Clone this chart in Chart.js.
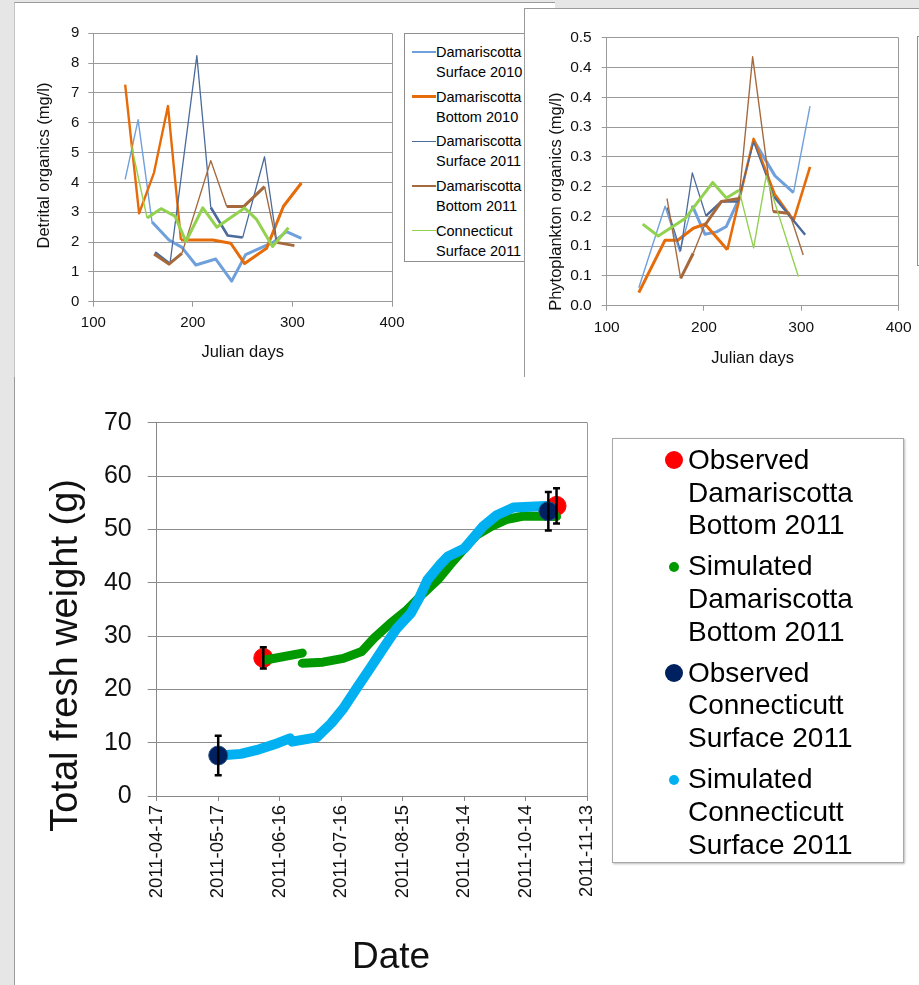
<!DOCTYPE html>
<html>
<head>
<meta charset="utf-8">
<script src="https://cdn.jsdelivr.net/npm/chart.js@4.4.1/dist/chart.umd.min.js"></script>
<style>
  body { margin: 0; width: 919px; height: 985px; position: relative; overflow: hidden;
         background: #e6e6e6; font-family: "Liberation Sans", Arial, sans-serif; }
  .panel { position: absolute; background: #fff; }
  .holder { position: absolute; }
  .legend { position: absolute; background: #fff; border: 1px solid #8f8f8f; box-sizing: border-box; overflow: hidden; }
  .item { position: absolute; white-space: nowrap; color: #000; }
  .swatch { position: absolute; }
</style>
</head>
<body>

<div class="panel" style="left:14px;top:2px;width:540px;height:374px;border-top:1px solid #9a9a9a;border-left:1px solid #c4c4c4"></div>
<div class="holder" style="left:15px;top:3px;width:515px;height:372px"><canvas id="detrital"></canvas></div>
<div class="legend" id="detLegend" style="left:404px;top:33px;width:150px;height:229px"></div>

<div class="panel" style="left:524px;top:8px;width:400px;height:370px;border-top:1px solid #9a9a9a;border-left:1px solid #9a9a9a"></div>
<div class="holder" style="left:525px;top:8px;width:394px;height:370px"><canvas id="phyto"></canvas></div>
<div class="legend" style="left:917px;top:36px;width:20px;height:230px"></div>

<div class="panel" style="left:14px;top:377px;width:910px;height:610px;border-left:1px solid #9a9a9a"></div>
<div class="holder" style="left:15px;top:378px;width:904px;height:607px"><canvas id="weight"></canvas></div>
<div class="legend" id="weightLegend" style="left:612px;top:438px;width:292px;height:425px;border-color:#a8a8a8;box-shadow:1px 1px 2px #bbb"></div>

<script>
// ---- top left: detrital organics (mg/l) vs Julian day ----
const detSurf2010Days = [132, 145, 159, 176, 189, 203, 223, 239, 253, 281, 294, 309];
const detSurf2010 = [4.1, 6.1, 2.67, 2.07, 1.82, 1.23, 1.43, 0.69, 1.58, 2.0, 2.35, 2.12];
const detBot2010Days = [132, 146, 161, 175, 188, 220, 238, 252, 274, 291, 309];
const detBot2010 = [7.28, 2.96, 4.33, 6.56, 2.07, 2.07, 1.96, 1.28, 1.79, 3.2, 3.98];
const detSurf2011Days = [162, 177, 204, 218, 235, 250, 272, 284];
const detSurf2011 = [1.66, 1.27, 8.25, 3.16, 2.22, 2.15, 4.86, 2.08];
const detBot2011Days = [161, 176, 189, 218, 234, 251, 272, 284, 302];
const detBot2011 = [1.6, 1.26, 1.62, 4.73, 3.19, 3.19, 3.86, 1.99, 1.88];
const detConnDays = [138, 154, 168, 182, 193, 210, 224, 252, 264, 280, 296];
const detConn = [5.28, 2.81, 3.12, 2.87, 2.02, 3.15, 2.5, 3.14, 2.76, 1.85, 2.48];

// ---- top right: phytoplankton organics (mg/l) vs Julian day ----
const phySurf2010Days = [133, 160, 175, 188, 201, 213, 223, 237, 251, 273, 292, 309];
const phySurf2010 = [0.03, 0.167, 0.091, 0.168, 0.12, 0.124, 0.133, 0.183, 0.278, 0.218, 0.19, 0.335];
const phyBot2010Days = [133, 160, 173, 189, 201, 224, 251, 273, 292, 309];
const phyBot2010 = [0.022, 0.11, 0.11, 0.13, 0.137, 0.094, 0.28, 0.186, 0.143, 0.233];
const phySurf2011Days = [162, 176, 188, 202, 218, 235, 251, 272, 293, 304];
const phySurf2011 = [0.165, 0.092, 0.223, 0.151, 0.175, 0.175, 0.275, 0.183, 0.141, 0.119];
const phyBot2011Days = [162, 176, 189, 200, 218, 236, 250, 271, 288, 302];
const phyBot2011 = [0.18, 0.046, 0.088, 0.133, 0.175, 0.18, 0.418, 0.158, 0.155, 0.085];
const phyConnDays = [137, 153, 181, 209, 223, 236, 251, 264, 297];
const phyConn = [0.137, 0.117, 0.147, 0.207, 0.181, 0.194, 0.097, 0.218, 0.049];
const phyTickValues = [0, 0.05, 0.1, 0.15, 0.2, 0.25, 0.3, 0.35, 0.4, 0.45];
const phyTickLabels = ['0.0', '0.1', '0.1', '0.2', '0.2', '0.3', '0.3', '0.4', '0.4', '0.5'];

const topSeriesNames = ['Damariscotta\nSurface 2010', 'Damariscotta\nBottom 2010', 'Damariscotta\nSurface 2011',
  'Damariscotta\nBottom 2011', 'Connecticut\nSurface 2011'];

// ---- bottom: total fresh weight (g), x = day of year 2011 ----
const dateTickDays = [107, 137, 167, 197, 227, 257, 287, 317];
const dateTickLabels = ['2011-04-17', '2011-05-17', '2011-06-16', '2011-07-16', '2011-08-15', '2011-09-14', '2011-10-14', '2011-11-13'];
const obsDamDays = [159, 302];
const obsDam = [25.9, 54.4];
const obsDamErr = [2.0, 3.3];
const obsConnDays = [137, 298];
const obsConn = [7.6, 53.4];
const obsConnErr = [3.7, 3.6];
const simDamDays = [160, 178, 178, 178, 188, 198, 207, 213, 221, 229, 237, 244, 250, 257, 263, 270, 278, 286, 302];
const simDam = [25.5, 26.8, null, 24.9, 25.1, 25.8, 27.1, 29.6, 32.4, 34.9, 38, 40.5, 43.3, 46.4, 48.9, 50.5, 51.9, 52.5, 52.4];
const simConnDays = [138, 148, 157, 166, 172, 173, 185, 192, 198, 205, 211, 218, 224, 231, 235, 239, 245, 249, 257, 266, 273, 281, 297];
const simConn = [7.6, 7.9, 8.75, 9.9, 10.8, 10.2, 11, 13.6, 16.4, 20.5, 23.9, 28, 31.4, 34.3, 37.1, 40.5, 43.3, 44.9, 46.4, 50.5, 52.7, 54.1, 54.4];
const weightSeriesNames = ['Observed\nDamariscotta\nBottom 2011', 'Simulated\nDamariscotta\nBottom 2011',
  'Observed\nConnecticutt\nSurface 2011', 'Simulated\nConnecticutt\nSurface 2011'];

const FONT = '"Liberation Sans", Arial, sans-serif';
const GRID = '#9a9a9a';
const topColors = ['#6fa0dc', '#e66c0a', '#4a6b9c', '#a5693c', '#93d150'];
const weightColors = ['#ff0000', '#009a00', '#00215f', '#00b0f0'];

function pts(xs, ys) {
  return xs.map((x, i) => ({ x: x, y: ys[i] }));
}

// steep stretches of the original look thin, flat ones thick
function slopeWidth(thin, thick) {
  return (ctx) => {
    const dx = Math.abs(ctx.p1.x - ctx.p0.x) || 1;
    return Math.abs(ctx.p1.y - ctx.p0.y) / dx > 2.5 ? thin : thick;
  };
}

function seriesLine(xs, ys, color, order, thin, thick) {
  return {
    data: pts(xs, ys), borderColor: color, backgroundColor: color, order: order,
    pointRadius: 0, borderWidth: thick, borderJoinStyle: 'round',
    segment: { borderWidth: slopeWidth(thin, thick) }
  };
}

function errorBars(xs, ys, errs) {
  const out = [];
  xs.forEach((x, i) => {
    out.push({ x: x, y: ys[i] - errs[i] }, { x: x, y: ys[i] + errs[i] }, { x: x, y: null });
  });
  return out;
}

// the original axis titles sit off the middle of their axis, so nudge the drawn title
function shiftTitle(scale, dx, dy) {
  if (scale._titleShifted) return;
  scale._titleShifted = true;
  const draw = scale.drawTitle;
  scale.drawTitle = function () {
    this.ctx.save();
    this.ctx.translate(dx, dy);
    draw.call(this);
    this.ctx.restore();
  };
}

const fixWidth = (w, dy) => (scale) => { scale.width = w; shiftTitle(scale, 0, dy || 0); };
const fixHeight = (h, dx) => (scale) => { scale.height = h; shiftTitle(scale, dx || 0, 0); };
const lastTickOnly = (v) => (ctx) => (ctx.tick && ctx.tick.value === v ? GRID : 'transparent');

function topChart(id, datasets, yOpts, yTitle, geom) {
  return new Chart(document.getElementById(id), {
    type: 'line',
    data: { datasets: datasets },
    options: {
      responsive: true, maintainAspectRatio: false, animation: false,
      layout: { padding: { top: geom.top, right: geom.right, left: 0, bottom: 0 } },
      plugins: { legend: { display: false }, tooltip: { enabled: false } },
      scales: {
        x: {
          type: 'linear', min: 100, max: 400,
          ticks: { stepSize: 100, color: '#111', font: { family: FONT, size: geom.tick }, padding: geom.xPad },
          grid: { color: lastTickOnly(400), tickColor: GRID, tickLength: 5 },
          border: { color: GRID },
          title: { display: true, text: 'Julian days', color: '#111', font: { family: FONT, size: 16.5 },
                   padding: { top: 0, bottom: geom.xTitle } },
          afterFit: fixHeight(geom.xh)
        },
        y: Object.assign({
          grid: { color: GRID, tickLength: 5 },
          border: { color: GRID },
          title: { display: true, text: yTitle, color: '#111', font: { family: FONT, size: 16.5 },
                   padding: { top: geom.yTitle, bottom: 0 } },
          afterFit: fixWidth(geom.yw, geom.yShift)
        }, yOpts)
      }
    }
  });
}

topChart('detrital', [
  seriesLine(detSurf2010Days, detSurf2010, topColors[0], 5, 1.4, 3),
  seriesLine(detBot2010Days, detBot2010, topColors[1], 4, 2.4, 3),
  seriesLine(detSurf2011Days, detSurf2011, topColors[2], 3, 1.3, 2.6),
  seriesLine(detBot2011Days, detBot2011, topColors[3], 2, 1.4, 3),
  seriesLine(detConnDays, detConn, topColors[4], 1, 1.4, 3)
], {
  min: 0, max: 9,
  ticks: { stepSize: 1, color: '#111', font: { family: FONT, size: 15 }, padding: 9 }
}, 'Detrital organics (mg/l)',
{ top: 30.3, right: 138, xh: 73.3, yw: 78.3, tick: 15, xPad: 7, xTitle: 13, yTitle: 20, yShift: -2 });

topChart('phyto', [
  seriesLine(phySurf2010Days, phySurf2010, topColors[0], 5, 1.4, 3),
  seriesLine(phyBot2010Days, phyBot2010, topColors[1], 4, 2.6, 3),
  seriesLine(phySurf2011Days, phySurf2011, topColors[2], 3, 1.3, 2.4),
  seriesLine(phyBot2011Days, phyBot2011, topColors[3], 2, 1.4, 3),
  seriesLine(phyConnDays, phyConn, topColors[4], 1, 1.4, 3)
], {
  min: 0, max: 0.45,
  afterBuildTicks: (scale) => { scale.ticks = phyTickValues.map((v) => ({ value: v })); },
  ticks: { color: '#111', font: { family: FONT, size: 15.5 }, padding: 10,
           callback: (v, i) => phyTickLabels[i] }
}, 'Phytoplankton organics (mg/l)',
{ top: 29.7, right: 14.7, xh: 72.3, yw: 81.7, tick: 15.5, xPad: 7.5, xTitle: 10, yTitle: 22, yShift: 30 });

new Chart(document.getElementById('weight'), {
  type: 'line',
  data: {
    datasets: [
      { data: errorBars(obsConnDays, obsConn, obsConnErr), borderColor: '#000', order: -2, borderWidth: 2.5,
        pointStyle: 'line', pointRadius: 3.5, pointBorderWidth: 2.5, pointBorderColor: '#000', spanGaps: false },
      { data: errorBars(obsDamDays, obsDam, obsDamErr), borderColor: '#000', order: -2, borderWidth: 2.5,
        pointStyle: 'line', pointRadius: 3.5, pointBorderWidth: 2.5, pointBorderColor: '#000', spanGaps: false },
      { data: pts(obsConnDays, obsConn), showLine: false, order: -1, pointRadius: 9.5,
        pointBackgroundColor: weightColors[2], pointBorderColor: '#2c5688', pointBorderWidth: 1 },
      { data: pts(simConnDays, simConn), borderColor: weightColors[3], order: 0, pointRadius: 0,
        borderWidth: 10, borderCapStyle: 'round', borderJoinStyle: 'round' },
      { data: pts(simDamDays, simDam), borderColor: weightColors[1], order: 1, pointRadius: 0,
        borderWidth: 9, borderCapStyle: 'round', borderJoinStyle: 'round', spanGaps: false },
      { data: pts(obsDamDays, obsDam), showLine: false, order: 4, pointRadius: 9.5,
        pointBackgroundColor: weightColors[0], pointBorderColor: weightColors[0], pointBorderWidth: 1 }
    ]
  },
  options: {
    responsive: true, maintainAspectRatio: false, animation: false,
    layout: { padding: { top: 44.7, right: 331.7, left: 0, bottom: 0 } },
    plugins: { legend: { display: false }, tooltip: { enabled: false } },
    scales: {
      x: {
        type: 'linear', min: 107, max: 317,
        afterBuildTicks: (scale) => { scale.ticks = dateTickDays.map((v) => ({ value: v })); },
        ticks: { autoSkip: false, minRotation: 90, maxRotation: 90, color: '#111', padding: 4,
                 font: { family: FONT, size: 18.5 }, callback: (v, i) => dateTickLabels[i] },
        grid: { color: lastTickOnly(317), tickColor: '#888', tickLength: 5 },
        border: { color: '#888' },
        title: { display: true, text: 'Date', color: '#111', font: { family: FONT, size: 37 },
                 padding: { top: 0, bottom: 5 } },
        afterFit: fixHeight(189, 19)
      },
      y: {
        min: 0, max: 70,
        ticks: { stepSize: 10, color: '#111', font: { family: FONT, size: 25 }, padding: 16 },
        grid: { color: '#8a8a8a', tickLength: 9 },
        border: { color: '#888' },
        title: { display: true, text: 'Total fresh weight (g)', color: '#111', font: { family: FONT, size: 38 },
                 padding: { top: 29, bottom: 0 } },
        afterFit: fixWidth(141.7, 46)
      }
    }
  }
});

// ---- HTML legends (multi-line entries) ----
const detLegend = document.getElementById('detLegend');
const topLineWidths = [1.3, 2.6, 1.3, 1.3, 1.3];
topSeriesNames.forEach((name, i) => {
  const cy = 18 + 44.7 * i;
  const sw = document.createElement('div');
  sw.className = 'swatch';
  sw.style.cssText = 'left:7px;width:24px;top:' + (cy - topLineWidths[i] / 2) + 'px;height:' +
    topLineWidths[i] + 'px;background:' + topColors[i];
  detLegend.appendChild(sw);
  const tx = document.createElement('div');
  tx.className = 'item';
  tx.style.cssText = 'left:31px;top:' + (cy - 10) + 'px;font-size:14.5px;line-height:20px';
  tx.innerHTML = name.split('\n').join('<br>');
  detLegend.appendChild(tx);
});

const weightLegend = document.getElementById('weightLegend');
const weightDotRadius = [9, 5, 9, 5];
weightSeriesNames.forEach((name, i) => {
  const cy = 21.3 + 106.4 * i;
  const r = weightDotRadius[i];
  const dot = document.createElement('div');
  dot.className = 'swatch';
  dot.style.cssText = 'left:' + (60.7 - r) + 'px;top:' + (cy - r) + 'px;width:' + 2 * r + 'px;height:' + 2 * r +
    'px;border-radius:50%;background:' + weightColors[i];
  weightLegend.appendChild(dot);
  const tx = document.createElement('div');
  tx.className = 'item';
  tx.style.cssText = 'left:75px;top:' + (cy - 16.4) + 'px;font-size:28px;line-height:32.7px';
  tx.innerHTML = name.split('\n').join('<br>');
  weightLegend.appendChild(tx);
});
</script>
</body>
</html>
